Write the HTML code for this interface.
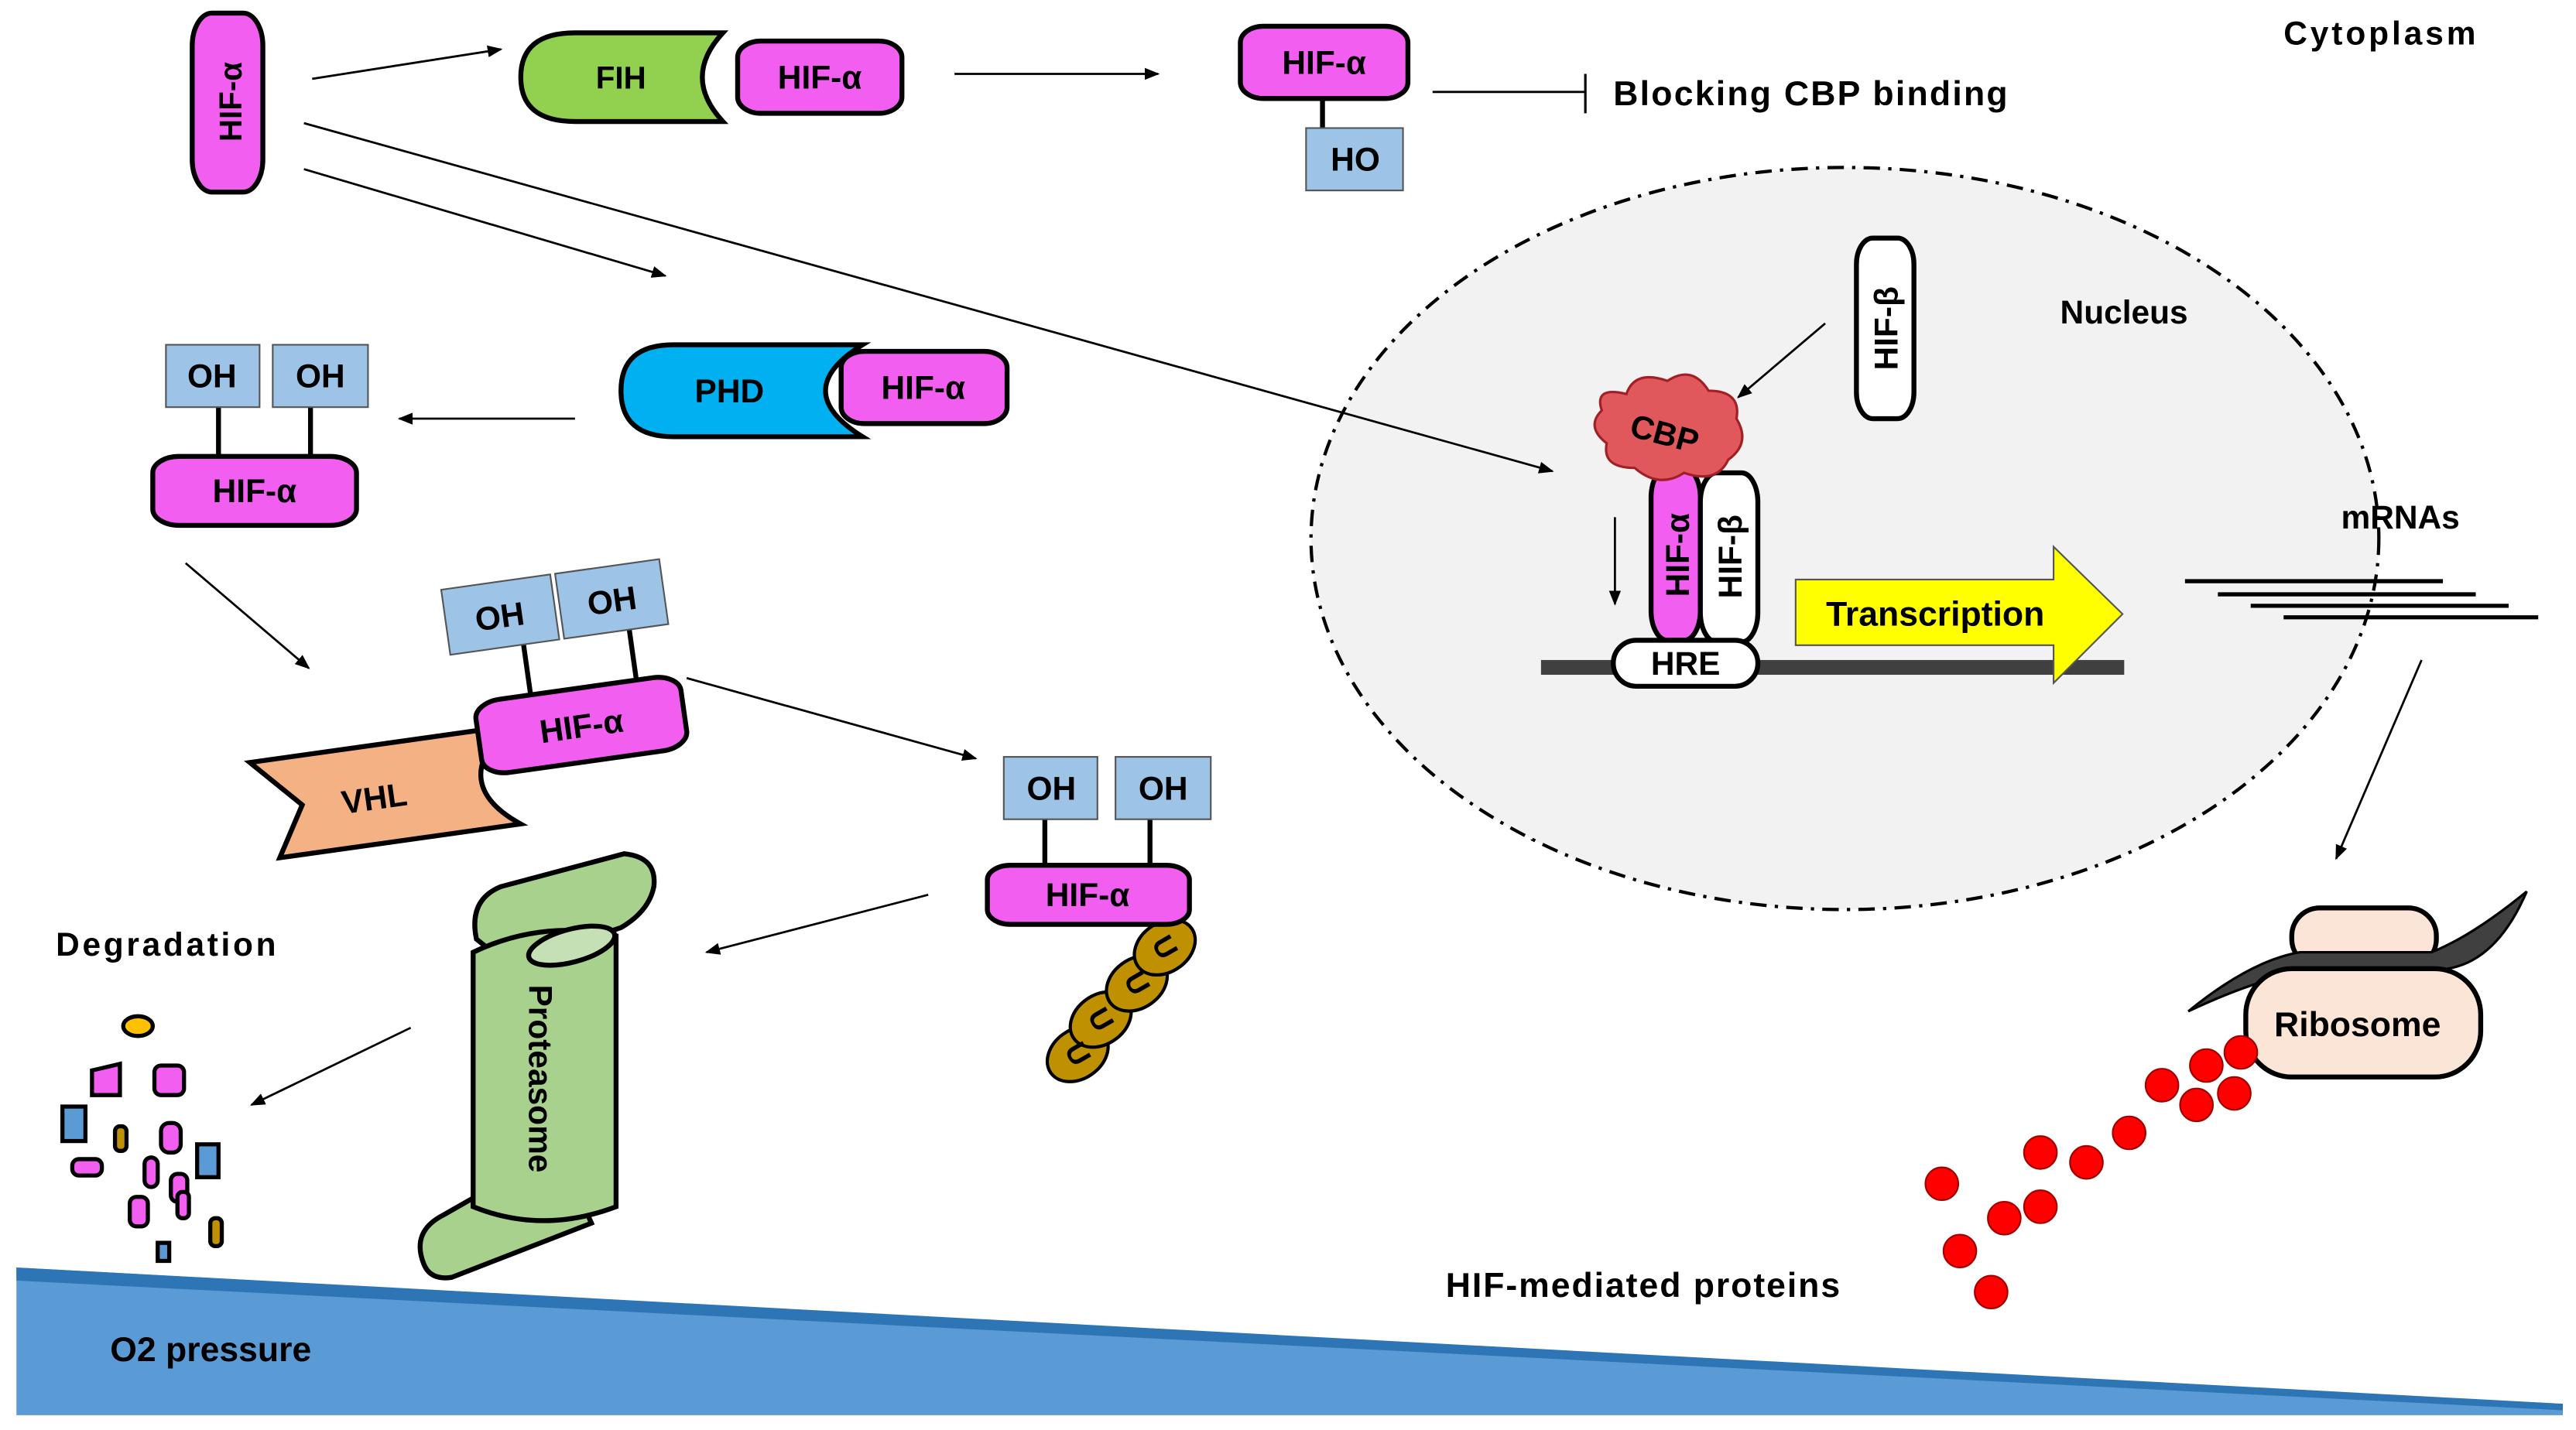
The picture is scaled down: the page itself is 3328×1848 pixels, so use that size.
<!DOCTYPE html>
<html><head><meta charset="utf-8"><style>
html,body{margin:0;padding:0;background:#fff;}
svg{display:block;}
text{font-family:"Liberation Sans",Arial,sans-serif;font-weight:bold;fill:#000;}
</style></head><body>
<svg width="3328" height="1848" viewBox="0 0 1568 871" preserveAspectRatio="none" xmlns="http://www.w3.org/2000/svg">
<defs>
<marker id="a" viewBox="0 0 10 10" refX="9" refY="5" markerWidth="7" markerHeight="7" orient="auto"><path d="M0,1 L10,5 L0,9 Z" fill="#000"/></marker>
</defs>
<rect width="1568" height="871" fill="#fff"/>
<ellipse cx="1123" cy="328" rx="325" ry="226" fill="#f2f2f2" stroke="#000" stroke-width="2" stroke-dasharray="10,5,2,5"/>
<polygon points="10,772 1560,856 1560,862 10,862" fill="#5b9bd5"/>
<polygon points="10,772 1560,855 1560,859 10,780" fill="#2e75b6"/>
<text x="67" y="829" font-size="21">O2 pressure</text>
<text x="880" y="790" font-size="21" textLength="240">HIF-mediated proteins</text>
<text x="1390" y="27" font-size="20" textLength="117">Cytoplasm</text>
<text x="1254" y="197" font-size="20">Nucleus</text>
<text x="1425" y="322" font-size="20">mRNAs</text>
<text x="34" y="582" font-size="20" textLength="134">Degradation</text>
<text x="982" y="64" font-size="21" textLength="240">Blocking CBP binding</text>

<g stroke="#000" stroke-width="1.3" fill="none" marker-end="url(#a)">
<line x1="190" y1="48" x2="305" y2="30"/>
<line x1="581" y1="45" x2="705" y2="45"/>
<line x1="185" y1="75" x2="945" y2="287"/>
<line x1="185" y1="103" x2="405" y2="168"/>
<line x1="350" y1="255" x2="243" y2="255"/>
<line x1="113" y1="343" x2="188" y2="407"/>
<line x1="418" y1="413" x2="594" y2="462"/>
<line x1="565" y1="545" x2="430" y2="580"/>
<line x1="250" y1="626" x2="153" y2="673"/>
<line x1="1111" y1="197" x2="1058" y2="242"/>
<line x1="983" y1="315" x2="983" y2="368"/>
<line x1="1474" y1="402" x2="1422" y2="523"/>
</g>
<line x1="872" y1="56" x2="965" y2="56" stroke="#000" stroke-width="1.3"/>
<line x1="965" y1="45" x2="965" y2="69" stroke="#000" stroke-width="1.5"/>

<rect x="117" y="8" width="43" height="109" rx="12" ry="20" fill="#f25ff0" stroke="#000" stroke-width="3"/>
<text transform="translate(147,62) rotate(-90)" font-size="19" text-anchor="middle">HIF-α</text>

<path d="M350,20 L440,20 Q415,47 440,74 L350,74 Q317,74 317,47 Q317,20 350,20 Z" fill="#92d050" stroke="#000" stroke-width="3"/>
<text x="378" y="54" font-size="19" text-anchor="middle">FIH</text>
<rect x="449" y="25" width="100" height="44" rx="14" ry="10" fill="#f25ff0" stroke="#000" stroke-width="3"/>
<text x="499" y="54" font-size="20" text-anchor="middle">HIF-α</text>

<line x1="805" y1="60" x2="805" y2="78" stroke="#000" stroke-width="3"/>
<rect x="755" y="16" width="102" height="44" rx="14" ry="10" fill="#f25ff0" stroke="#000" stroke-width="3"/>
<text x="806" y="45" font-size="20" text-anchor="middle">HIF-α</text>
<rect x="795" y="78" width="59" height="38" fill="#9dc3e6" stroke="#555" stroke-width="1"/>
<text x="825" y="104" font-size="20" text-anchor="middle">HO</text>

<path d="M410,210 L525,210 Q480,238 525,266 L410,266 Q378,266 378,238 Q378,210 410,210 Z" fill="#00b0f0" stroke="#000" stroke-width="3"/>
<text x="444" y="245" font-size="20" text-anchor="middle">PHD</text>
<rect x="512" y="214" width="101" height="44" rx="14" ry="10" fill="#f25ff0" stroke="#000" stroke-width="3"/>
<text x="562" y="243" font-size="20" text-anchor="middle">HIF-α</text>

<line x1="133" y1="248" x2="133" y2="278" stroke="#000" stroke-width="3"/>
<line x1="189" y1="248" x2="189" y2="278" stroke="#000" stroke-width="3"/>
<rect x="101" y="210" width="57" height="38" fill="#9dc3e6" stroke="#555" stroke-width="1"/>
<rect x="166" y="210" width="58" height="38" fill="#9dc3e6" stroke="#555" stroke-width="1"/>
<text x="129" y="236" font-size="20" text-anchor="middle">OH</text>
<text x="195" y="236" font-size="20" text-anchor="middle">OH</text>
<rect x="93" y="278" width="124" height="42" rx="16" ry="10" fill="#f25ff0" stroke="#000" stroke-width="3"/>
<text x="155" y="306" font-size="20" text-anchor="middle">HIF-α</text>

<g transform="rotate(-8 290 440)">
<path d="M150,445 L308,445 Q268,475 308,505 L160,505 L178,475 Z" fill="#f4b183" stroke="#000" stroke-width="3"/>
<text x="222" y="484" font-size="20" text-anchor="middle">VHL</text>
<line x1="325" y1="395" x2="325" y2="430" stroke="#000" stroke-width="3"/>
<line x1="390" y1="395" x2="390" y2="430" stroke="#000" stroke-width="3"/>
<rect x="290" y="428" width="126" height="45" rx="16" ry="10" fill="#f25ff0" stroke="#000" stroke-width="3"/>
<text x="353" y="458" font-size="20" text-anchor="middle">HIF-α</text>
<rect x="280" y="357" width="67" height="40" fill="#9dc3e6" stroke="#555" stroke-width="1"/>
<rect x="350" y="357" width="64" height="40" fill="#9dc3e6" stroke="#555" stroke-width="1"/>
<text x="313" y="385" font-size="20" text-anchor="middle">OH</text>
<text x="382" y="385" font-size="20" text-anchor="middle">OH</text>
</g>

<line x1="636" y1="499" x2="636" y2="527" stroke="#000" stroke-width="3"/>
<line x1="700" y1="499" x2="700" y2="527" stroke="#000" stroke-width="3"/>
<rect x="611" y="461" width="57" height="38" fill="#9dc3e6" stroke="#555" stroke-width="1"/>
<rect x="679" y="461" width="58" height="38" fill="#9dc3e6" stroke="#555" stroke-width="1"/>
<text x="640" y="487" font-size="20" text-anchor="middle">OH</text>
<text x="708" y="487" font-size="20" text-anchor="middle">OH</text>
<g fill="#bf9000" stroke="#000" stroke-width="2">
<ellipse cx="656" cy="642" rx="20" ry="15" transform="rotate(-35 656 642)"/>
<ellipse cx="670" cy="621" rx="20" ry="15" transform="rotate(-35 670 621)"/>
<ellipse cx="692" cy="599" rx="20" ry="15" transform="rotate(-35 692 599)"/>
<ellipse cx="709" cy="577" rx="20" ry="15" transform="rotate(-35 709 577)"/>
</g>
<g font-size="18" fill="#000">
<text x="656" y="648" transform="rotate(60 656 642)" text-anchor="middle">U</text>
<text x="670" y="627" transform="rotate(60 670 621)" text-anchor="middle">U</text>
<text x="692" y="605" transform="rotate(60 692 599)" text-anchor="middle">U</text>
<text x="709" y="583" transform="rotate(60 709 577)" text-anchor="middle">U</text>
</g>
<rect x="601" y="527" width="123" height="36" rx="14" ry="9" fill="#f25ff0" stroke="#000" stroke-width="3"/>
<text x="662" y="552" font-size="20" text-anchor="middle">HIF-α</text>

<g fill="#a9d18e" stroke="#000" stroke-width="3">
<path d="M290,572 Q285,548 305,540 L380,520 Q400,522 398,540 Q395,555 378,565 L310,588 Z"/>
<path d="M258,770 Q250,750 270,740 L340,700 L360,745 L275,778 Q262,780 258,770 Z"/>
<path d="M288,580 L288,735 Q330,752 375,735 L375,570 Q330,560 288,580 Z"/>
<ellipse cx="348" cy="576" rx="27" ry="10" transform="rotate(-15 348 576)" fill="#c5e0b4"/>
</g>
<text transform="translate(322,657) rotate(90)" font-size="20" text-anchor="middle">Proteasome</text>

<g stroke="#000" stroke-width="2.5">
<ellipse cx="84" cy="625" rx="9" ry="6" fill="#ffc000"/>
<polygon points="56,652 73,648 73,667 56,667" fill="#f25ff0"/>
<rect x="94" y="649" width="18" height="18" rx="4" fill="#f25ff0"/>
<rect x="38" y="674" width="14" height="21" fill="#5b9bd5"/>
<rect x="70" y="686" width="7" height="15" rx="3" fill="#bf9000"/>
<rect x="98" y="684" width="12" height="18" rx="5" fill="#f25ff0"/>
<rect x="44" y="706" width="18" height="10" rx="4" fill="#f25ff0"/>
<rect x="88" y="705" width="8" height="18" rx="4" fill="#f25ff0"/>
<rect x="120" y="697" width="13" height="20" fill="#5b9bd5"/>
<rect x="104" y="715" width="10" height="17" rx="4" fill="#f25ff0"/>
<rect x="108" y="726" width="7" height="16" rx="3" fill="#f25ff0"/>
<rect x="79" y="729" width="11" height="18" rx="4" fill="#f25ff0"/>
<rect x="128" y="742" width="7" height="17" rx="3" fill="#bf9000"/>
<rect x="96" y="757" width="7" height="11" fill="#5b9bd5"/>
</g>

<rect x="1130" y="145" width="35" height="110" rx="10" ry="16" fill="#fff" stroke="#000" stroke-width="3"/>
<text transform="translate(1155,200) rotate(-90)" font-size="20" text-anchor="middle">HIF-β</text>
<rect x="938" y="402" width="355" height="9" fill="#404040"/>
<rect x="1005" y="285" width="30" height="105" rx="10" ry="18" fill="#f25ff0" stroke="#000" stroke-width="3"/>
<text transform="translate(1028,338) rotate(-90)" font-size="20" text-anchor="middle">HIF-α</text>
<rect x="1035" y="288" width="35" height="103" rx="10" ry="18" fill="#fff" stroke="#000" stroke-width="3"/>
<text transform="translate(1060,339) rotate(-90)" font-size="20" text-anchor="middle">HIF-β</text>
<path d="M975,250 Q970,235 990,240 Q995,225 1015,232 Q1030,222 1040,238 Q1060,238 1057,255 Q1066,270 1052,280 Q1045,295 1025,288 Q1010,298 995,285 Q975,285 978,270 Q965,260 975,250 Z" fill="#e0585c" stroke="#a02025" stroke-width="1.5"/>
<text x="1013" y="271" font-size="20" text-anchor="middle" transform="rotate(15 1013 265)">CBP</text>
<rect x="982" y="390" width="88" height="28" rx="14" fill="#fff" stroke="#000" stroke-width="3"/>
<text x="1026" y="411" font-size="20" text-anchor="middle">HRE</text>
<polygon points="1093,353 1250,353 1250,333 1292,374 1250,416 1250,393 1093,393" fill="#ffff00" stroke="#555" stroke-width="1"/>
<text x="1178" y="381" font-size="21" text-anchor="middle">Transcription</text>

<g stroke="#000" stroke-width="2.5">
<line x1="1330" y1="354" x2="1487" y2="354"/>
<line x1="1350" y1="362" x2="1507" y2="362"/>
<line x1="1370" y1="369" x2="1527" y2="369"/>
<line x1="1390" y1="376" x2="1545" y2="376"/>
</g>

<rect x="1395" y="553" width="88" height="36" rx="17" fill="#fbe5d6" stroke="#000" stroke-width="3"/>
<path d="M1332,616 Q1370,585 1400,580 L1480,580 Q1505,570 1538,543 Q1520,585 1490,590 L1400,592 Q1370,598 1332,616 Z" fill="#404040" stroke="#000" stroke-width="1.5"/>
<rect x="1367" y="590" width="143" height="66" rx="28" fill="#fbe5d6" stroke="#000" stroke-width="3"/>
<text x="1435" y="631" font-size="21" text-anchor="middle">Ribosome</text>

<g fill="#ff0000" stroke="#a00000" stroke-width="1">
<circle cx="1182" cy="721" r="10"/><circle cx="1193" cy="762" r="10"/><circle cx="1212" cy="787" r="10"/>
<circle cx="1220" cy="742" r="10"/><circle cx="1242" cy="735" r="10"/><circle cx="1242" cy="702" r="10"/>
<circle cx="1270" cy="708" r="10"/><circle cx="1296" cy="690" r="10"/><circle cx="1316" cy="661" r="10"/>
<circle cx="1337" cy="673" r="10"/><circle cx="1343" cy="649" r="10"/><circle cx="1360" cy="666" r="10"/>
<circle cx="1364" cy="641" r="10"/>
</g>
</svg>
</body></html>
